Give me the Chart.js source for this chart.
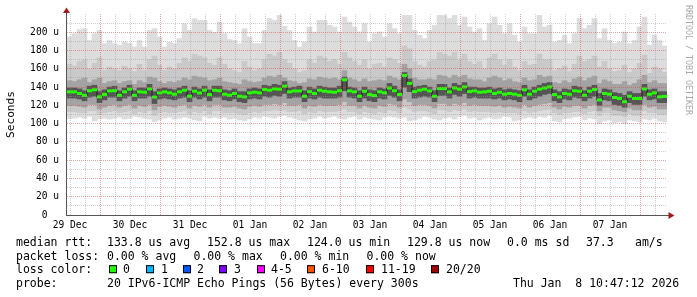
<!DOCTYPE html>
<html><head><meta charset="utf-8">
<script src="https://cdn.jsdelivr.net/npm/chart.js@4/dist/chart.umd.min.js"></script>
<style>html,body{margin:0;padding:0;background:#fff;}#wrap{width:697px;height:297px;position:relative;}canvas{display:block;}</style>
</head><body>
<div id="wrap"><canvas id="c" width="697" height="297"></canvas></div>
<script>
// time axis: hours since 29 Dec 00:00; graph runs 29 Dec 10:47 -> 08 Jan 10:47
const startHour = 10 + 47 / 60;
const endHour = startHour + 240;
const slotHours = 2;
const dayLabels = ['29 Dec','30 Dec','31 Dec','01 Jan','02 Jan','03 Jan','04 Jan','05 Jan','06 Jan','07 Jan'];
const yTickValues = [0,20,40,60,80,100,120,140,160,180,200];
const yTickLabels = ['0  ','20 u','40 u','60 u','80 u','100 u','120 u','140 u','160 u','180 u','200 u'];

// median RTT (us), one value per 2h slot
const medianRtt = [
 134.8,134.8,133.0,131.0,136.0,137.0,129.3,132.0,135.8,136.0,
 131.0,134.8,137.7,131.0,134.8,134.4,138.0,129.0,133.6,134.8,
 133.7,132.2,134.8,136.6,130.0,135.5,133.6,136.6,131.8,136.6,
 136.0,132.2,131.1,133.0,130.0,129.3,133.7,134.4,133.7,137.3,
 136.6,138.0,137.7,141.0,134.8,135.8,135.8,130.0,135.0,133.0,
 136.6,135.5,134.8,134.4,136.0,148.0,135.8,134.8,130.0,135.5,
 131.8,130.7,134.8,133.7,139.0,136.0,132.0,152.8,144.0,135.0,
 136.6,137.7,135.8,130.0,138.4,138.4,134.8,139.1,137.7,140.2,
 135.1,135.8,134.4,134.8,135.5,133.0,134.4,132.2,133.0,132.2,
 131.0,137.0,132.2,135.5,137.7,139.0,140.2,131.8,129.3,133.0,
 132.2,136.0,135.5,131.1,135.5,137.3,126.0,133.0,132.2,128.6,
 127.5,124.0,130.0,127.5,127.5,138.0,132.2,133.7,129.3,129.8];

// smoke: slowest / fastest ping and intermediate spread levels (us)
const pingMax = [
 195,198.5,203,204,191,198.5,202,187.6,191,187.6,
 185.7,189.4,187.6,184,191,184,202,204,195,184,
 189,187.6,193,209.4,202,215,213,213,202,200,
 211,198.5,192,191,187.6,204,195,187.6,187.6,202,
 215,213,218.5,206.5,202,191,184,189.4,205.8,200.3,
 213,213,207.6,205.8,200.3,216.7,211,205.8,200.3,209.4,
 189.4,198.5,200.3,194.9,209.4,204,198.5,218.5,218.5,202,
 196.8,193,202,207.6,218.5,218.5,215,218.5,207.6,216.7,
 205.8,200.3,204,191,209.4,216.7,207.6,198.5,209.4,196.8,
 189.4,205.8,198.5,198.5,218.5,205.8,207.6,189.4,191,196.8,
 187.6,198.5,215,204,207.6,215,193,204,191,187.6,
 189.4,200.3,187.6,191,205.8,216.7,185.8,196.8,191,185];
const pingHi1 = [
 165,163,168,170,160,166,172,158,162,160,
 158,163,160,157,165,158,170,174,164,158,
 162,160,166,172,168,176,174,172,166,164,
 172,165,160,158,156,168,162,158,160,170,
 176,174,178,170,166,160,156,158,170,166,
 174,172,168,170,165,178,172,168,164,170,
 160,165,166,162,172,170,166,185,182,168,
 164,162,168,170,178,176,174,178,170,176,
 168,165,168,160,172,176,170,164,170,162,
 158,168,164,165,176,170,170,158,160,163,
 157,165,174,168,170,174,162,168,160,157,
 158,164,156,160,166,175,155,162,160,156];
const pingHi2 = [
 147,146,148,150,145,148,150,144,146,147,
 144,146,147,143,147,145,151,150,146,144,
 146,145,147,150,148,152,151,150,147,148,
 150,146,145,144,143,148,146,145,146,150,
 152,151,153,150,147,146,144,145,149,148,
 151,150,149,150,148,158,150,148,146,149,
 146,147,148,147,152,150,148,165,160,150,
 148,148,149,148,153,152,150,153,151,153,
 149,148,148,146,150,152,150,147,149,146,
 145,150,147,148,153,151,152,145,144,147,
 145,149,151,147,150,152,144,148,146,143,
 143,146,142,144,148,153,145,147,144,144];
const pingHi3 = [
 139,139,138,136,141,142,135,137,140,141,
 136,139,142,136,139,139,143,135,138,139,
 138,137,139,141,136,140,138,141,137,141,
 141,137,136,138,135,135,138,139,138,142,
 141,143,142,146,139,140,141,136,140,138,
 141,140,139,139,141,151,140,139,136,140,
 137,136,139,138,144,141,137,156,149,140,
 141,142,140,136,143,143,139,144,142,145,
 140,140,139,139,140,138,139,137,138,137,
 136,142,137,140,142,144,145,137,135,138,
 137,141,140,136,140,142,133,138,137,134,
 133,131,135,133,133,143,137,138,135,135];
const pingLo3 = [
 128,128,127,125,129,130,123,126,129,129,
 125,128,130,125,128,128,130,122,127,128,
 127,126,128,129,124,129,127,129,125,129,
 129,126,125,127,124,123,127,128,127,130,
 129,131,130,133,128,129,129,124,128,127,
 129,128,128,128,129,136,129,128,124,128,
 125,124,128,127,131,129,125,140,135,128,
 129,130,129,124,131,131,128,132,130,133,
 128,129,128,128,128,127,128,126,127,126,
 124,130,126,128,130,132,133,125,123,127,
 126,129,128,125,128,130,120,126,125,121,
 120,118,123,121,121,130,126,127,123,123];
const pingLo2 = [
 120,120,119,118,121,121,116,118,120,121,
 118,120,121,117,120,119,121,115,119,120,
 119,118,120,121,117,120,119,121,118,121,
 121,118,118,119,117,116,119,120,119,121,
 121,122,121,123,120,120,121,117,120,119,
 121,120,120,120,121,124,120,120,117,120,
 118,117,120,119,122,121,118,127,124,120,
 121,121,120,117,122,122,120,122,121,123,
 120,121,120,120,120,119,120,118,119,118,
 117,121,118,120,121,122,123,118,116,119,
 118,120,120,117,120,121,114,118,118,115,
 114,113,117,115,115,121,118,119,116,116];
const pingLo1 = [
 113,113,112,112,114,114,110,112,113,114,
 112,113,114,111,113,112,114,109,112,113,
 112,112,113,114,111,113,112,114,111,114,
 114,112,112,112,111,110,112,113,112,114,
 114,115,114,115,113,113,114,111,113,112,
 114,113,113,113,114,116,113,113,111,113,
 112,111,113,112,115,114,112,118,116,113,
 114,114,113,111,115,115,113,115,114,116,
 113,114,113,113,113,112,113,112,112,112,
 111,114,112,113,114,115,116,112,110,112,
 112,113,113,111,113,114,109,112,112,109,
 109,108,111,109,109,114,112,112,110,110];
const pingMin = [
 105.6,106,107,106,108,103,105,106,105,106,
 107,105,106,108,107,106,105,102,104,106,
 107,105,106,107,106,104,103,108,106,107,
 106,107,105,106,104,103,105,107,106,108,
 107,106,108,109,107,106,104,103,105,106,
 108,106,107,108,106,105,107,108,105,107,
 106,105,104,107,108,107,106,107,103,104,
 106,108,107,105,104,106,107,105,108,109,
 106,107,104,106,107,105,106,108,107,103,
 104,106,107,106,108,107,109,103,102,105,
 106,107,108,104,106,105,100,103,104,101,
 102,100,104,103,102,105,104,106,103,102];

// legend texts
const statRow1 = ['median rtt:','133.8 us avg','152.8 us max','124.0 us min','129.8 us now','0.0 ms sd','37.3','am/s'];
const statRow2 = ['packet loss:','0.00 % avg','0.00 % max','0.00 % min','0.00 % now'];
const lossTitle = 'loss color:';
const lossLabels = ['0','1','2','3','4-5','6-10','11-19','20/20'];
const lossColors = ['#26ff00','#00b8ff','#0059ff','#7e00ff','#ff00ff','#ff5500','#ff0000','#a10000'];
const probeTitle = 'probe:';
const probeText = '20 IPv6-ICMP Echo Pings (56 Bytes) every 300s';
const dateText = 'Thu Jan  8 10:47:12 2026';
const watermark = 'RRDTOOL / TOBI OETIKER';
const yTitle = 'Seconds';

// layout (pixels)
const row1X = [16,107,207,307,407,507,586,635];
const row2X = [16,107,193.5,280,366.5];
const lossBoxX = [109,146,183,219,257,307,366,431];
const lossTextX = [123,161,197,234,271,322,381,446];
const rowBase = [246, 259.6, 273.2, 286.8];

const xs = medianRtt.map((_, i) => startHour + slotHours * (i + 0.5));
const band = (lo, hi) => lo.map((v, i) => ({x: xs[i], y: [v, hi[i]]}));
const medPts = medianRtt.map((v, i) => ({x: xs[i], y: v}));
const barBase = {type: 'bar', grouped: false, barPercentage: 1, categoryPercentage: 1, borderWidth: 0, borderSkipped: false};

const xTickHours = [];
for (let h = Math.ceil(startHour / 6) * 6; h < endHour; h += 6) xTickHours.push(h);
const yTickAll = [];
for (let v = 0; v <= 210; v += 10) yTickAll.push(v);

const MONO = '"DejaVu Sans Mono", "Liberation Mono", monospace';
const majorGrid = 'rgba(215,70,70,0.5)';
const minorGrid = 'rgba(150,150,150,0.45)';

const deco = {
  id: 'deco',
  afterDraw(chart) {
    const {ctx, chartArea: a} = chart;
    ctx.save();
    // axes
    ctx.strokeStyle = '#555'; ctx.lineWidth = 1;
    ctx.beginPath(); ctx.moveTo(66.5, a.bottom + 0.5); ctx.lineTo(66.5, 12); ctx.stroke();
    ctx.beginPath(); ctx.moveTo(66, a.bottom + 0.5); ctx.lineTo(a.right + 2, a.bottom + 0.5); ctx.stroke();
    ctx.fillStyle = '#a01c1c';
    ctx.beginPath(); ctx.moveTo(66.5, 7.5); ctx.lineTo(63, 13); ctx.lineTo(70, 13); ctx.closePath(); ctx.fill();
    ctx.beginPath(); ctx.moveTo(674.5, a.bottom + 0.5); ctx.lineTo(668.5, a.bottom - 3); ctx.lineTo(668.5, a.bottom + 4); ctx.closePath(); ctx.fill();
    // watermark
    ctx.save();
    ctx.translate(688, 60); ctx.rotate(Math.PI / 2);
    ctx.font = '8.3px ' + MONO; ctx.fillStyle = '#a8a8a8';
    ctx.textAlign = 'center'; ctx.textBaseline = 'middle';
    ctx.fillText(watermark, 0, 0);
    ctx.restore();
    // legend
    ctx.font = '11.5px ' + MONO; ctx.fillStyle = '#000';
    ctx.textAlign = 'left'; ctx.textBaseline = 'alphabetic';
    statRow1.forEach((t, i) => ctx.fillText(t, row1X[i], rowBase[0]));
    statRow2.forEach((t, i) => ctx.fillText(t, row2X[i], rowBase[1]));
    ctx.fillText(lossTitle, 16, rowBase[2]);
    lossLabels.forEach((t, i) => {
      ctx.fillStyle = lossColors[i];
      ctx.fillRect(lossBoxX[i], rowBase[2] - 8, 8, 8);
      ctx.strokeStyle = '#000';
      ctx.strokeRect(lossBoxX[i] + 0.5, rowBase[2] - 7.5, 7, 7);
      ctx.fillStyle = '#000';
      ctx.fillText(t, lossTextX[i], rowBase[2]);
    });
    ctx.fillText(probeTitle, 16, rowBase[3]);
    ctx.fillText(probeText, 107, rowBase[3]);
    ctx.fillText(dateText, 513, rowBase[3]);
    ctx.restore();
  }
};

new Chart(document.getElementById('c'), {
  type: 'bar',
  data: {
    datasets: [
      {...barBase, data: band(pingMin, pingMax), backgroundColor: '#dddddd', order: 5},
      {...barBase, data: band(pingLo1, pingHi1), backgroundColor: '#c9c9c9', order: 4},
      {...barBase, data: band(pingLo2, pingHi2), backgroundColor: '#a3a3a3', order: 3},
      {...barBase, data: band(pingLo3, pingHi3), backgroundColor: '#555555', order: 2},
      {type: 'line', data: medPts, stepped: 'middle', borderColor: '#1a1a1a', borderWidth: 1, pointRadius: 0, order: 1},
      {type: 'line', data: medPts, showLine: false, pointStyle: 'line', pointRadius: 2.5, pointBorderWidth: 3,
       pointBorderColor: '#26ff00', pointBackgroundColor: '#26ff00', order: 0}
    ]
  },
  options: {
    responsive: false, animation: false, events: [],
    layout: {padding: {top: 14, right: 30, left: 0, bottom: 0}},
    plugins: {legend: {display: false}, tooltip: {enabled: false}},
    scales: {
      x: {
        type: 'linear', min: startHour, max: endHour, offset: false,
        afterBuildTicks: s => { s.ticks = xTickHours.map(v => ({value: v})); },
        afterFit: s => { s.height = 82; },
        grid: {z: 1, offset: false, drawTicks: false, lineWidth: 1,
               color: c => (c.tick && c.tick.value % 24 === 0) ? majorGrid : minorGrid},
        border: {display: false, dash: [1, 1]},
        ticks: {autoSkip: false, maxRotation: 0, padding: 5, color: '#000',
                font: {family: MONO, size: 9.6},
                callback: v => ((v - 12) % 24 === 0) ? (dayLabels[(v - 12) / 24] || '') : ''}
      },
      y: {
        type: 'linear', min: 0, max: 220,
        afterBuildTicks: s => { s.ticks = yTickAll.map(v => ({value: v})); },
        afterFit: s => { s.width = 67; },
        grid: {z: 1, drawTicks: false, lineWidth: 1,
               color: c => (c.tick && c.tick.value % 20 === 0) ? majorGrid : minorGrid},
        border: {display: false, dash: [1, 1]},
        title: {display: true, text: yTitle, color: '#000', font: {family: MONO, size: 11.2}, padding: {top: 4, bottom: 0}},
        ticks: {autoSkip: false, padding: 8, color: '#000', font: {family: MONO, size: 9.6},
                callback: v => { const k = yTickValues.indexOf(v); return k >= 0 ? yTickLabels[k] : ''; }}
      }
    }
  },
  plugins: [deco]
});
</script>
</body></html>
